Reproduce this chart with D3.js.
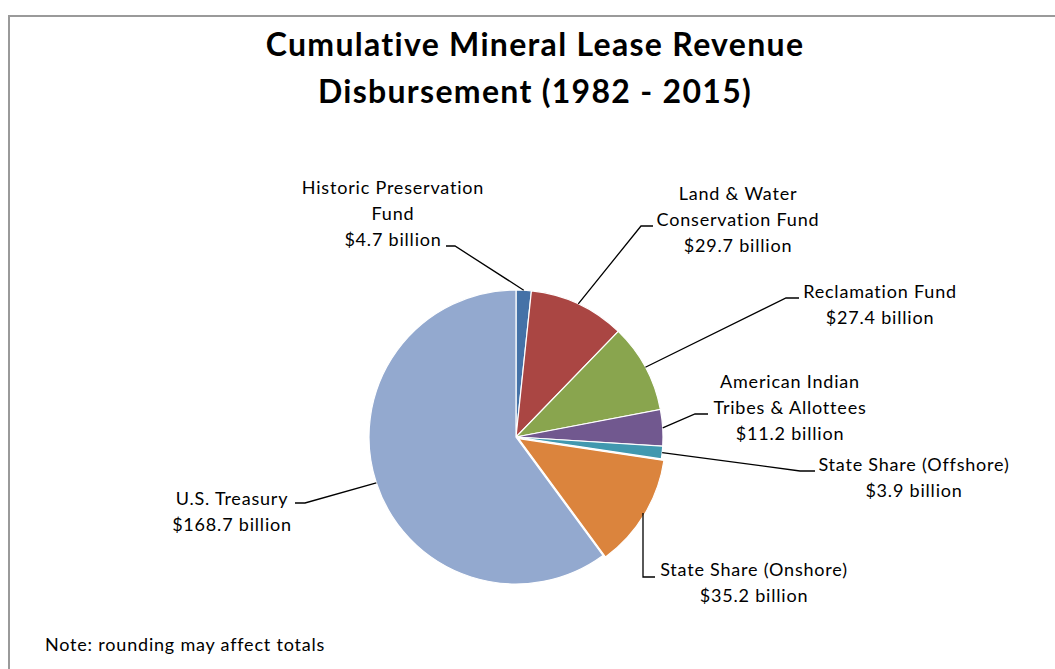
<!DOCTYPE html>
<html>
<head>
<meta charset="utf-8">
<script src="https://cdn.jsdelivr.net/npm/d3@7.9.0/dist/d3.min.js"></script>
<style>
  body { margin: 0; background: #fff; }
  svg { display: block; font-family: Lato, "Open Sans", sans-serif; }
</style>
</head>
<body>
<svg id="chart" width="1055" height="669"></svg>
<script>
// data (billions of dollars), in clockwise order from 12 o'clock
const categories = [
  "Historic Preservation Fund",
  "Land & Water Conservation Fund",
  "Reclamation Fund",
  "American Indian Tribes & Allottees",
  "State Share (Offshore)",
  "State Share (Onshore)",
  "U.S. Treasury"
];
const values = [4.7, 29.7, 27.4, 11.2, 3.9, 35.2, 168.7];
// how each label is broken into lines
const labelLines = [
  ["Historic Preservation", "Fund"],
  ["Land & Water", "Conservation Fund"],
  ["Reclamation Fund"],
  ["American Indian", "Tribes & Allottees"],
  ["State Share (Offshore)"],
  ["State Share (Onshore)"],
  ["U.S. Treasury"]
];
const colors = ["#4572a7", "#aa4643", "#89a54e", "#71588f", "#4198af", "#db843d", "#93a9cf"];

// layout of the labels (text centre x, first baseline y) and leader elbows
const labelLayout = [
  { x: 393, y: 194, elbow: [455, 246], end: [446, 246] },
  { x: 738, y: 200, elbow: [641, 226], end: [653, 226] },
  { x: 880, y: 298, elbow: [786, 298], end: [799, 298] },
  { x: 790, y: 388, elbow: [695, 414], end: [708, 414] },
  { x: 914, y: 471, elbow: [800, 471], end: [815, 471] },
  { x: 754, y: 576, elbow: [643, 577], end: [655, 577], vertical: true },
  { x: 232, y: 505, elbow: [305, 503], end: [295, 503] }
];

const svg = d3.select("#chart");
const cx = 516, cy = 437, r = 147;

// frame
svg.append("rect")
  .attr("x", 9).attr("y", 16)
  .attr("width", 1100).attr("height", 700)
  .attr("fill", "none").attr("stroke", "#9a9a9a").attr("stroke-width", 2);

// title
const title = svg.append("text")
  .attr("text-anchor", "middle")
  .attr("font-weight", "bold")
  .attr("font-size", 32)
  .attr("letter-spacing", 1.3)
  .attr("fill", "#000");
title.append("tspan").attr("x", 535).attr("y", 56).text("Cumulative Mineral Lease Revenue");
title.append("tspan").attr("x", 535).attr("y", 103).text("Disbursement (1982 - 2015)");

const data = categories.map((c, i) => ({ name: c, value: values[i], lines: labelLines[i], i }));

const pie = d3.pie().sort(null).value(d => d.value);
const arcs = pie(data);
const arc = d3.arc().innerRadius(0).outerRadius(r);
const edge = d3.arc().innerRadius(r).outerRadius(r);

const g = svg.append("g").attr("transform", `translate(${cx},${cy})`);

g.selectAll("path")
  .data(arcs)
  .enter()
  .append("path")
  .attr("d", arc)
  .attr("fill", d => colors[d.data.i])
  .attr("stroke", "#fff")
  .attr("stroke-width", 1.2)
  .attr("transform", d => {
    // the onshore slice is pulled out a little
    if (d.data.name !== "State Share (Onshore)") return null;
    const a = (d.startAngle + d.endAngle) / 2;
    return `translate(${3 * Math.sin(a)},${-3 * Math.cos(a)})`;
  });

// leader lines and labels
const fmt = v => `$${d3.format(".1f")(v)} billion`;
arcs.forEach(d => {
  const L = labelLayout[d.data.i];
  const [px, py] = edge.centroid(d);
  const sx = cx + px, sy = cy + py;
  let pts;
  if (L.vertical) pts = [[L.elbow[0], sy], L.elbow, L.end];
  else pts = [[sx, sy], L.elbow, L.end];
  svg.append("path")
    .attr("d", d3.line()(pts))
    .attr("fill", "none")
    .attr("stroke", "#000")
    .attr("stroke-width", 1.3);

  const t = svg.append("text")
    .attr("text-anchor", "middle")
    .attr("font-size", 18)
    .attr("letter-spacing", 0.8)
    .attr("fill", "#000");
  const lines = d.data.lines.concat([fmt(d.data.value)]);
  lines.forEach((s, k) => {
    t.append("tspan").attr("x", L.x).attr("y", L.y + k * 26).text(s);
  });
});

// note
svg.append("text")
  .attr("x", 45).attr("y", 651)
  .attr("font-size", 18)
  .attr("letter-spacing", 0.8)
  .attr("fill", "#000")
  .text("Note: rounding may affect totals");
</script>
</body>
</html>
